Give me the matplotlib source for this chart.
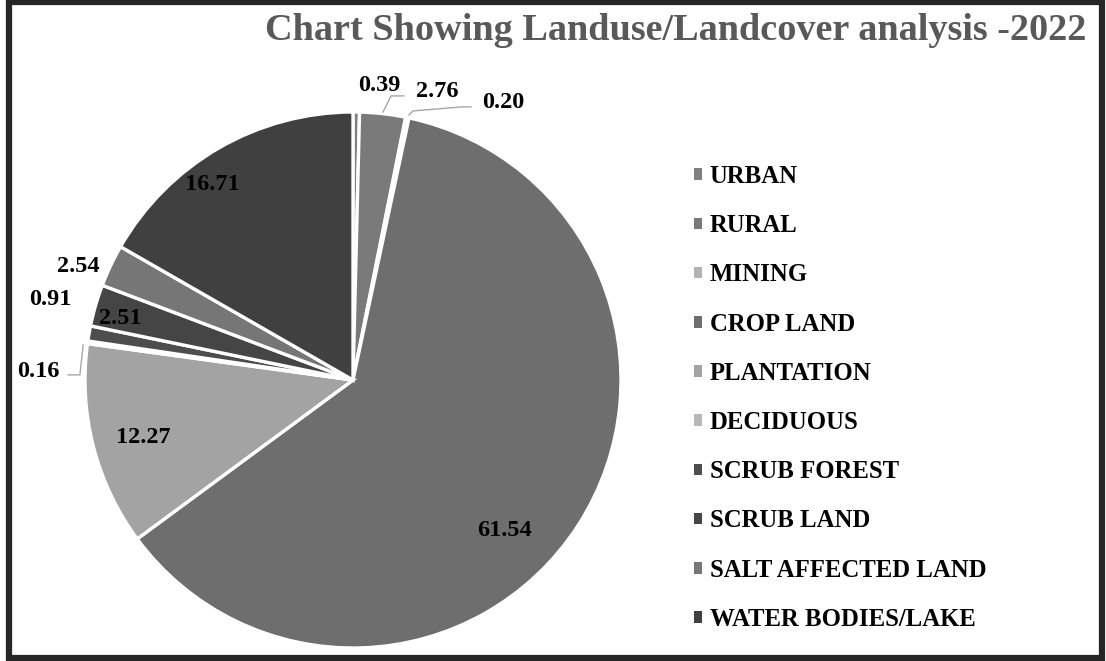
import numpy as np
import matplotlib.pyplot as plt
from matplotlib.patches import Patch, Rectangle

plt.rcParams["font.family"] = ["Liberation Serif", "DejaVu Serif"]

categories = ["URBAN", "RURAL", "MINING", "CROP LAND", "PLANTATION", "DECIDUOUS",
              "SCRUB FOREST", "SCRUB LAND", "SALT AFFECTED LAND", "WATER BODIES/LAKE"]
values = [0.39, 2.76, 0.20, 61.54, 12.27, 0.16, 0.91, 2.51, 2.54, 16.71]
colors = ["#7f7f7f", "#7a7a7a", "#b2b2b2", "#6e6e6e", "#a3a3a3", "#b7b7b7",
          "#4d4d4d", "#454545", "#767676", "#404040"]

# label placement (pie radius = 1)
label_pos = [(0.10, 1.10), (0.313, 1.075), (0.56, 1.034), (0.567, -0.56),
             (-0.784, -0.216), (-1.175, 0.03), (-1.13, 0.30), (-0.87, 0.23),
             (-1.026, 0.425), (-0.526, 0.728)]
leaders = {
    1: [(0.112, 1.0), (0.142, 1.06), (0.19, 1.06)],
    2: [(0.209, 0.989), (0.224, 1.004), (0.407, 1.019), (0.44, 1.019)],
    5: [(-1.007, 0.131), (-1.019, 0.019), (-1.063, 0.019)],
}

W, H = 1106, 661
fig = plt.figure(figsize=(W / 100, H / 100), dpi=100)

# pie centre (353, 380) px, radius 268 px
R = 268
lim = 1.35
size = 2 * lim * R
cx, cy = 353, 380
ax = fig.add_axes([(cx - size / 2) / W, (H - cy - size / 2) / H, size / W, size / H])
wedges, _ = ax.pie(values, colors=colors, startangle=90, counterclock=False,
                   wedgeprops=dict(edgecolor="white", linewidth=2.4))
ax.set_xlim(-lim, lim)
ax.set_ylim(-lim, lim)
ax.set_aspect("equal")
ax.axis("off")

for i, (v, (lx, ly)) in enumerate(zip(values, label_pos)):
    ax.text(lx, ly, f"{v:.2f}", ha="center", va="center", fontsize=17.5,
            fontweight="bold", color="black")
for i, pts in leaders.items():
    xs, ys = zip(*pts)
    ax.plot(xs, ys, color="#a6a6a6", lw=1.0, clip_on=False)

handles = [Patch(facecolor=c, edgecolor="none") for c in colors]
fig.legend(handles, categories, loc="upper left",
           bbox_to_anchor=(694 / W, 1 - 165 / H), frameon=False,
           prop=dict(weight="bold", size=17.8), handlelength=0.34,
           handleheight=0.34, handletextpad=0.3, labelspacing=1.06,
           borderpad=0, borderaxespad=0)

fig.text(676 / W, 1 - 30 / H, "Chart Showing Landuse/Landcover analysis -2022",
         ha="center", va="center", fontsize=27.5, fontweight="bold", color="#595959")

fig.patches.append(Rectangle((9 / W, 3 / H), 1093 / W, 656 / H, transform=fig.transFigure,
                             fill=False, edgecolor="#262626", linewidth=4.5))

fig.savefig("out.png", dpi=100)
